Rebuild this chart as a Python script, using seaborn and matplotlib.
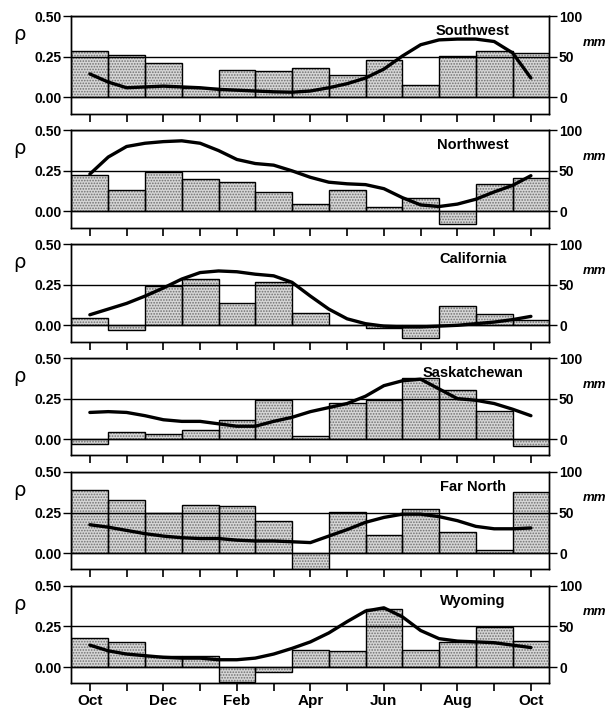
import numpy as np
import matplotlib
matplotlib.use('Agg')
import matplotlib.pyplot as plt
import seaborn as sns

# monthly bars (rho) and half-monthly precipitation curve (mm)
months = ['Oct', 'Nov', 'Dec', 'Jan', 'Feb', 'Mar', 'Apr',
          'May', 'Jun', 'Jul', 'Aug', 'Sep', 'Oct']
regions = ['Southwest', 'Northwest', 'California',
           'Saskatchewan', 'Far North', 'Wyoming']

rho_sw = [0.289, 0.260, 0.215, 0.059, 0.167, 0.163, 0.183, 0.140, 0.234, 0.079, 0.254, 0.285, 0.274]
rho_nw = [0.225, 0.132, 0.240, 0.198, 0.180, 0.118, 0.043, 0.134, 0.025, 0.083, -0.079, 0.169, 0.207]
rho_ca = [0.043, -0.029, 0.242, 0.287, 0.135, 0.266, 0.074, 0.0, -0.014, -0.078, 0.119, 0.068, 0.033]
rho_sk = [-0.027, 0.043, 0.033, 0.058, 0.120, 0.240, 0.019, 0.223, 0.242, 0.376, 0.304, 0.171, -0.041]
rho_fn = [0.388, 0.325, 0.250, 0.294, 0.288, 0.198, -0.117, 0.256, 0.113, 0.275, 0.131, 0.019, 0.375]
rho_wy = [0.176, 0.153, 0.067, 0.065, -0.092, -0.031, 0.108, 0.098, 0.357, 0.104, 0.153, 0.245, 0.163]

mm_sw = [29, 19, 12, 13, 14, 13, 12, 10, 9, 8, 7, 6.5, 8, 12, 17, 24, 35, 51, 65, 71, 72, 72, 69, 55, 24]
mm_nw = [46, 67, 80, 84, 86, 87, 84, 75, 64, 59, 57, 50, 42, 36, 34, 33, 28, 17, 8, 6, 9, 15, 24, 32, 44]
mm_ca = [13, 20, 27, 36, 46, 57, 65, 67, 66, 63, 61, 53, 36, 20, 8, 2, -1, -2, -2, -1, 0, 2, 4, 7, 11]
mm_sk = [33, 34, 33, 29, 24, 22, 22, 19, 16, 16, 22, 27, 34, 39, 44, 53, 66, 72, 74, 62, 50, 48, 44, 37, 29]
mm_fn = [35, 32, 28, 24, 21, 19, 18, 18, 16, 15, 15, 14, 13, 21, 29, 38, 44, 48, 48, 45, 40, 33, 30, 30, 31]
mm_wy = [27, 20, 16, 14, 12, 11, 11, 9, 9, 11, 16, 23, 31, 42, 56, 69, 73, 62, 45, 35, 32, 31, 30, 27, 24]

rho_all = [rho_sw, rho_nw, rho_ca, rho_sk, rho_fn, rho_wy]
mm_all = [mm_sw, mm_nw, mm_ca, mm_sk, mm_fn, mm_wy]

sns.set_style('ticks')
plt.rcParams['font.family'] = ['Liberation Sans', 'DejaVu Sans']
plt.rcParams['hatch.linewidth'] = 0.8
for k in ['text.color', 'axes.labelcolor', 'xtick.color', 'ytick.color', 'axes.edgecolor']:
    plt.rcParams[k] = 'black'

fig, axes = plt.subplots(6, 1, figsize=(6.11, 7.11), dpi=100)
fig.subplots_adjust(left=0.117, right=0.899, top=0.977, bottom=0.039, hspace=0.17)

pos = list(range(len(months)))
half_pos = np.arange(len(mm_sw)) / 2.0

for i, ax in enumerate(axes):
    # stippled fill, then black outline on top
    sns.barplot(x=pos, y=rho_all[i], ax=ax, width=1, color='#d6d6d6', saturation=1,
                edgecolor='#707070', linewidth=0, hatch='......')
    sns.barplot(x=pos, y=rho_all[i], ax=ax, width=1, fill=False, saturation=1,
                edgecolor='black', linewidth=1)

    ax.set_ylim(-0.1, 0.5)
    ax.set_yticks([0, 0.25, 0.5])
    ax.set_yticklabels(['0.00', '0.25', '0.50'], fontsize=10, fontweight='bold')
    ax.grid(axis='y', color='black', linewidth=1)
    ax.set_axisbelow(False)
    ax.set_ylabel('')
    ax.text(-0.108, 0.81, 'ρ', transform=ax.transAxes, fontsize=14,
            ha='center', va='center', family=['DejaVu Sans'])
    ax.text(0.84, 0.85, regions[i], transform=ax.transAxes, fontsize=10.5,
            fontweight='bold', ha='center', va='center')

    ax2 = ax.twinx()
    sns.lineplot(x=half_pos, y=mm_all[i], ax=ax2, color='black', linewidth=2.4)
    ax2.set_ylim(-20, 100)
    ax2.set_yticks([0, 50, 100])
    ax2.set_yticklabels(['0', '50', '100'], fontsize=10, fontweight='bold')
    ax2.set_ylabel('')
    ax2.text(1.095, 0.728, 'mm', transform=ax.transAxes, fontsize=9.5,
             fontweight='bold', fontstyle='italic', ha='center', va='center')

    ax.set_xlim(-0.5, len(months) - 0.5)
    ax.set_xticks(pos)
    if i == len(axes) - 1:
        ax.set_xticklabels([m if k % 2 == 0 else '' for k, m in enumerate(months)],
                           fontsize=11, fontweight='bold')
    else:
        ax.set_xticklabels([])
    ax.tick_params(axis='x', direction='out', length=6, width=1.2, pad=2)
    ax.tick_params(axis='y', direction='out', length=6, width=1, pad=1)
    ax2.tick_params(axis='y', direction='out', length=6, width=1, pad=1)
    for a in (ax, ax2):
        for s in a.spines.values():
            s.set_visible(True)
            s.set_linewidth(1)
            s.set_color('black')

fig.savefig('out.png', dpi=100)
